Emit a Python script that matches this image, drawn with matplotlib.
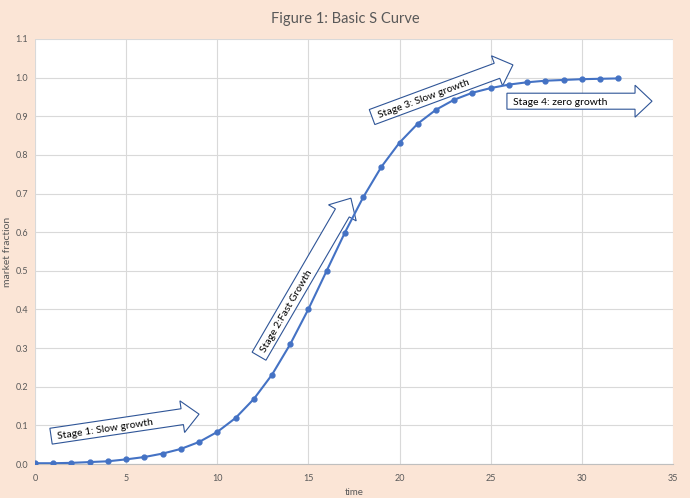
import numpy as np
import matplotlib.pyplot as plt
from matplotlib.patches import Polygon

# data
time = list(range(0, 33))
fraction = [0.002, 0.002, 0.003, 0.005, 0.007, 0.012, 0.018, 0.027, 0.039, 0.057,
            0.083, 0.119, 0.168, 0.231, 0.310, 0.401, 0.500, 0.599, 0.690, 0.769,
            0.832, 0.881, 0.917, 0.943, 0.961, 0.973, 0.982, 0.988, 0.992, 0.994,
            0.996, 0.997, 0.998]
x_ticks = [0, 5, 10, 15, 20, 25, 30, 35]
y_ticks = [0.0, 0.1, 0.2, 0.3, 0.4, 0.5, 0.6, 0.7, 0.8, 0.9, 1.0, 1.1]

# stage labels with arrow tail / tip in data units
stage_labels = ["Stage 1: Slow growth", "Stage 2:Fast Growth",
                "Stage 3: Slow growth", "Stage 4: zero growth"]
stage_tails = [(0.88, 0.072), (12.29, 0.279), (18.49, 0.898), (25.89, 0.939)]
stage_tips = [(9.0, 0.129), (17.33, 0.688), (26.22, 1.033), (33.85, 0.939)]

plt.rcParams['font.family'] = ['Lato', 'DejaVu Sans']

bg = '#FBE5D6'
fig = plt.figure(figsize=(6.9, 4.98), dpi=100, facecolor=bg)
ax = fig.add_axes([35 / 690, 34 / 498, 638 / 690, 425 / 498])
ax.set_facecolor('white')

ax.set_xlim(0, 35)
ax.set_ylim(0, 1.1)
ax.set_xticks(x_ticks)
ax.set_yticks(y_ticks)
ax.set_yticklabels([f"{v:.1f}" for v in y_ticks])
ax.grid(True, color='#D9D9D9', linewidth=0.8)
ax.set_axisbelow(True)
for s in ['top', 'right', 'left']:
    ax.spines[s].set_visible(False)
ax.spines['bottom'].set_color('#BFBFBF')
ax.tick_params(length=0, labelsize=6.5, colors='#595959')
ax.tick_params(axis='x', pad=7)
ax.tick_params(axis='y', pad=5)

ax.plot(time, fraction, color='#4472C4', linewidth=1.5, marker='o',
        markersize=3.5, zorder=5)

# axis titles and chart title placed in the figure margins
fig.text(354 / 690, 1 - 492 / 498, 'time', ha='center', va='center',
         fontsize=7, color='#595959')
fig.text(8 / 690, 1 - 252 / 498, 'market fraction', ha='center', va='center',
         rotation=90, fontsize=7.5, color='#595959')
fig.text(0.5, 0.962, 'Figure 1: Basic S Curve', ha='center', va='center',
         fontsize=10.5, color='#595959')

# block arrows, drawn in pixel space so they keep their shape
to_fig = fig.transFigure.inverted()
body_w, head_w, head_l = 16, 32, 17
for label, tail, tip in zip(stage_labels, stage_tails, stage_tips):
    t0 = ax.transData.transform(tail)
    t1 = ax.transData.transform(tip)
    d = t1 - t0
    length = np.hypot(*d)
    u = d / length
    n = np.array([-u[1], u[0]])
    b = t0 + u * (length - head_l)
    pts = [t0 + n * body_w / 2, b + n * body_w / 2, b + n * head_w / 2, t1,
           b - n * head_w / 2, b - n * body_w / 2, t0 - n * body_w / 2]
    poly = Polygon(to_fig.transform(pts), closed=True, facecolor='white',
                   edgecolor='#2F5597', linewidth=0.8, transform=fig.transFigure,
                   zorder=3, clip_on=False)
    ax.add_patch(poly)
    angle = np.degrees(np.arctan2(u[1], u[0]))
    start = to_fig.transform([t0 + u * 6 - n * 1])[0]
    fig.text(start[0], start[1], label, rotation=angle, rotation_mode='anchor',
             ha='left', va='center', fontsize=7.5, color='black', zorder=4)

fig.savefig('out.png', dpi=100, facecolor=bg)
